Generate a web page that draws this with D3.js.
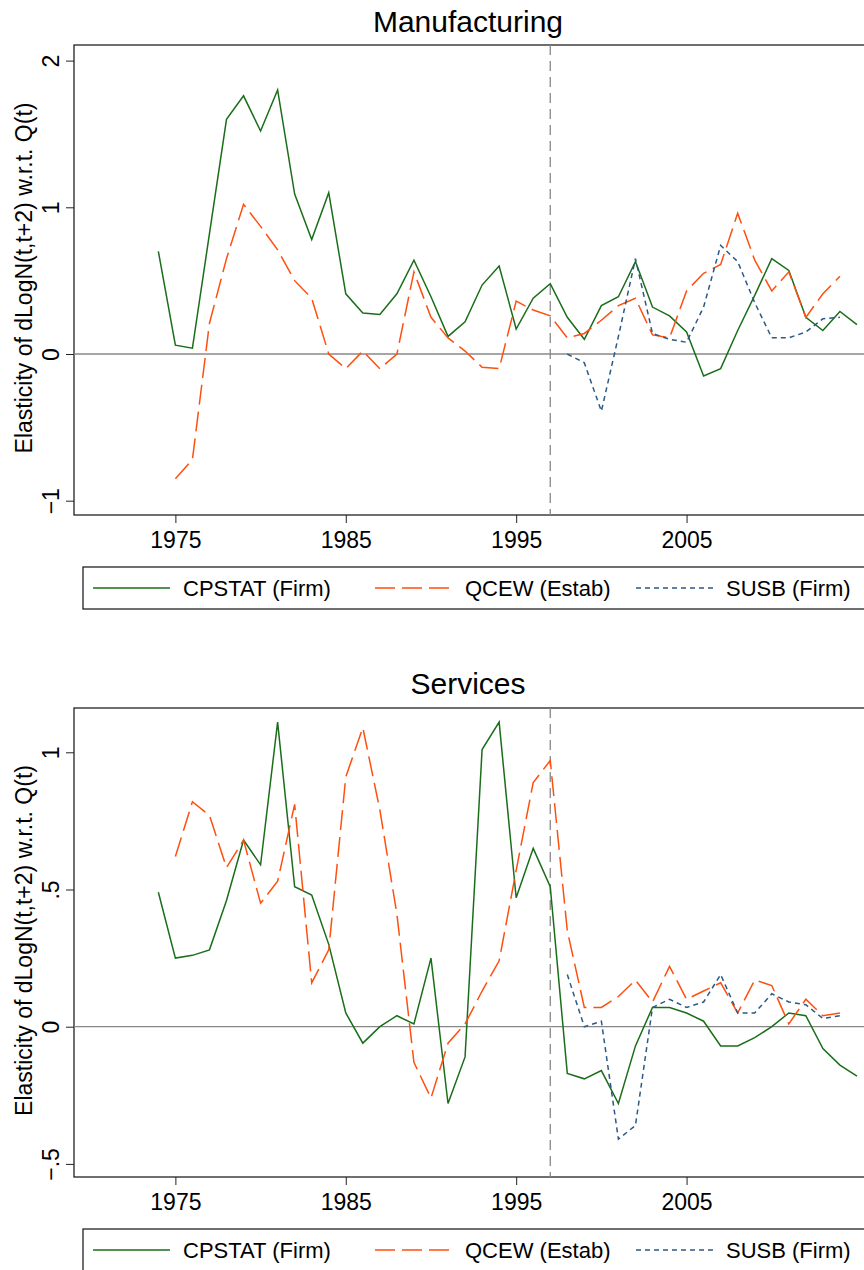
<!DOCTYPE html>
<html>
<head>
<meta charset="utf-8">
<script src="https://cdn.jsdelivr.net/npm/d3@7"></script>
<style>
  body { margin: 0; background: #fff; }
  text { font-family: "Liberation Sans", Arial, sans-serif; }
</style>
</head>
<body>
<svg id="chart" width="864" height="1270"></svg>
<script>
// years for each series
var cpstatYears = d3.range(1974, 2016);
var qcewYears = d3.range(1975, 2015);
var susbYears = d3.range(1998, 2015);

// Manufacturing values
var mfgCpstat = [0.70, 0.06, 0.04, 0.82, 1.60, 1.76, 1.52, 1.80, 1.09, 0.78, 1.10, 0.41, 0.28, 0.27, 0.41, 0.64,
  0.39, 0.12, 0.22, 0.47, 0.60, 0.17, 0.38, 0.48, 0.25, 0.10, 0.33, 0.39, 0.63, 0.32, 0.26, 0.15,
  -0.15, -0.10, 0.16, 0.40, 0.65, 0.57, 0.25, 0.16, 0.29, 0.20];
var mfgQcew = [-0.85, -0.72, 0.21, 0.65, 1.02, 0.87, 0.71, 0.50, 0.38, 0.00, -0.10, 0.02, -0.10, 0.00, 0.56,
  0.25, 0.11, 0.02, -0.09, -0.10, 0.36, 0.30, 0.26, 0.11, 0.14, 0.23, 0.33, 0.38, 0.13, 0.11,
  0.43, 0.55, 0.61, 0.96, 0.64, 0.43, 0.56, 0.25, 0.41, 0.53];
var mfgSusb = [0.00, -0.06, -0.39, 0.12, 0.65, 0.14, 0.10, 0.08, 0.32, 0.74, 0.63, 0.35, 0.11, 0.11, 0.15, 0.24, 0.25];

// Services values
var srvCpstat = [0.49, 0.25, 0.26, 0.28, 0.46, 0.68, 0.59, 1.11, 0.51, 0.48, 0.30, 0.05, -0.06, 0.00, 0.04, 0.01,
  0.25, -0.28, -0.11, 1.01, 1.11, 0.47, 0.65, 0.51, -0.17, -0.19, -0.16, -0.28, -0.07, 0.07, 0.07, 0.05,
  0.02, -0.07, -0.07, -0.04, 0.00, 0.05, 0.04, -0.08, -0.14, -0.18];
var srvQcew = [0.62, 0.82, 0.77, 0.58, 0.68, 0.45, 0.53, 0.81, 0.16, 0.28, 0.91, 1.09, 0.79, 0.41, -0.13,
  -0.26, -0.06, 0.01, 0.13, 0.24, 0.57, 0.89, 0.97, 0.35, 0.07, 0.07, 0.11, 0.17, 0.09, 0.22,
  0.10, 0.13, 0.16, 0.05, 0.17, 0.15, 0.01, 0.10, 0.04, 0.05];
var srvSusb = [0.19, 0.00, 0.02, -0.41, -0.36, 0.07, 0.10, 0.07, 0.09, 0.19, 0.05, 0.05, 0.12, 0.09, 0.08, 0.03, 0.04];

var xTicks = [1975, 1985, 1995, 2005];
var legendLabels = ["CPSTAT (Firm)", "QCEW (Estab)", "SUSB (Firm)"];

var colors = ["#1a6e1a", "#ff4f0f", "#2b5a86"];
var dashes = [null, "20,7", "5,4"];

var svg = d3.select("#chart");

// one year = 17.08px, 1975 sits at x=174.3
var x = d3.scaleLinear().domain([1969.05, 2016]).range([74, 874]);

function panel(opt) {
  var g = svg.append("g");
  var y = d3.scaleLinear().domain([0, 1]).range([opt.y0, opt.y1]);
  var top = opt.top, bottom = opt.bottom;

  g.append("text").attr("x", 468).attr("y", opt.titleY).attr("text-anchor", "middle")
    .style("font-size", "30px").text(opt.title);

  // frame
  g.append("rect").attr("x", 74).attr("y", top).attr("width", 820).attr("height", bottom - top)
    .attr("fill", "none").attr("stroke", "#222").attr("stroke-width", 1.3);

  // y axis
  var yAxis = d3.axisLeft(y).tickValues(opt.yTicks).tickSize(8).tickFormat(function(d, i) { return opt.yLabels[i]; });
  var ya = g.append("g").attr("transform", "translate(74,0)").call(yAxis);
  ya.select(".domain").remove();
  ya.selectAll("line").attr("stroke", "#222");
  ya.selectAll("text").attr("transform", "translate(-15,0) rotate(-90)")
    .attr("x", 0).attr("y", 0).attr("dy", "0").attr("text-anchor", "middle")
    .style("font-size", "23px").attr("fill", "#000");

  // x axis
  var xAxis = d3.axisBottom(x).tickValues(xTicks).tickSize(8).tickFormat(d3.format("d"));
  var xa = g.append("g").attr("transform", "translate(0," + bottom + ")").call(xAxis);
  xa.select(".domain").remove();
  xa.selectAll("line").attr("stroke", "#222");
  xa.selectAll("text").attr("dy", "0.95em").style("font-size", "23px").attr("fill", "#000");

  g.append("text").attr("transform", "translate(32," + ((top + bottom) / 2 - 2) + ") rotate(-90)")
    .attr("text-anchor", "middle").style("font-size", "23px")
    .text("Elasticity of dLogN(t,t+2) w.r.t. Q(t)");

  // zero line and break line
  g.append("line").attr("x1", 74).attr("x2", 864).attr("y1", y(0)).attr("y2", y(0))
    .attr("stroke", "#888").attr("stroke-width", 1.3);
  g.append("line").attr("x1", x(1997)).attr("x2", x(1997)).attr("y1", top).attr("y2", bottom)
    .attr("stroke", "#888").attr("stroke-width", 1.3).attr("stroke-dasharray", "10,6");

  var line = d3.line().x(function(d) { return x(d[0]); }).y(function(d) { return y(d[1]); });
  opt.series.forEach(function(s, i) {
    var pts = d3.zip(s.years, s.values);
    g.append("path").datum(pts).attr("d", line).attr("fill", "none")
      .attr("stroke", colors[i]).attr("stroke-width", 1.5)
      .attr("stroke-dasharray", dashes[i]);
  });

  // legend
  var ly = opt.legendTop;
  g.append("rect").attr("x", 83).attr("y", ly).attr("width", 800).attr("height", 42)
    .attr("fill", "#fff").attr("stroke", "#222").attr("stroke-width", 1.3);
  var lx = [93, 375, 636];
  legendLabels.forEach(function(lab, i) {
    g.append("line").attr("x1", lx[i]).attr("x2", lx[i] + 77).attr("y1", ly + 21).attr("y2", ly + 21)
      .attr("stroke", colors[i]).attr("stroke-width", 1.5).attr("stroke-dasharray", dashes[i]);
    g.append("text").attr("x", lx[i] + 90).attr("y", ly + 29).style("font-size", "22px").text(lab);
  });
}

panel({
  title: "Manufacturing", titleY: 32, top: 45, bottom: 515, y0: 354, y1: 207.3,
  yTicks: [-1, 0, 1, 2], yLabels: ["\u22121", "0", "1", "2"], legendTop: 567,
  series: [
    { years: cpstatYears, values: mfgCpstat },
    { years: qcewYears, values: mfgQcew },
    { years: susbYears, values: mfgSusb }
  ]
});

panel({
  title: "Services", titleY: 694, top: 708, bottom: 1177, y0: 1026.7, y1: 752.3,
  yTicks: [-0.5, 0, 0.5, 1], yLabels: ["\u2212.5", "0", ".5", "1"], legendTop: 1229,
  series: [
    { years: cpstatYears, values: srvCpstat },
    { years: qcewYears, values: srvQcew },
    { years: susbYears, values: srvSusb }
  ]
});
</script>
</body>
</html>
